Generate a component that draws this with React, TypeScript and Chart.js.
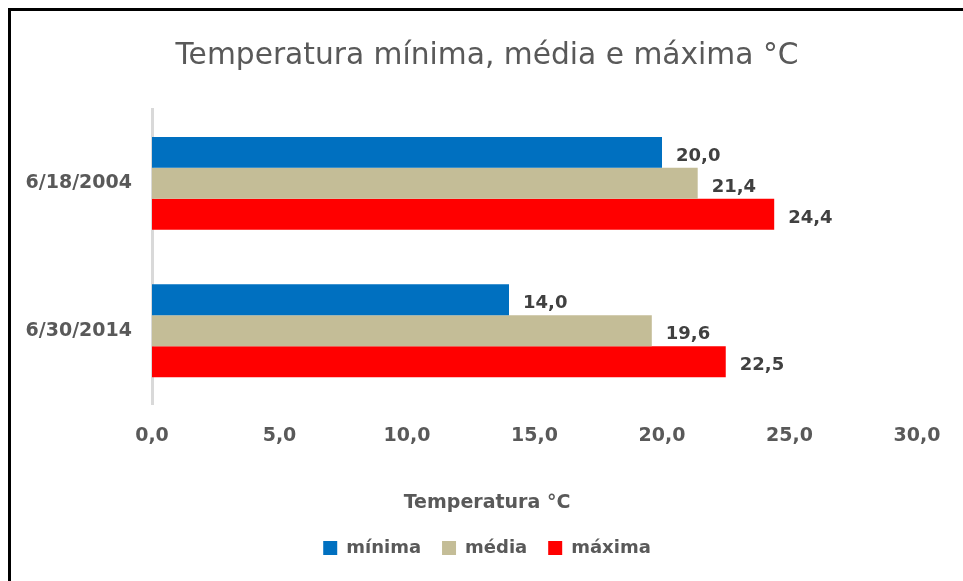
import React, { useEffect, useRef } from "react";
import { Chart, registerables } from "chart.js";

Chart.register(...registerables);

const categories = ["6/18/2004", "6/30/2014"];
const minima = [20.0, 14.0];
const media = [21.4, 19.6];
const maxima = [24.4, 22.5];
const seriesNames = ["mínima", "média", "máxima"];
const xTicks = [0, 5, 10, 15, 20, 25, 30];

const GRAY = "#595959";
const FONT = "'DejaVu Sans', sans-serif";

const fmt = (v: number) => v.toFixed(1).replace(".", ",");

const valueLabels = {
  id: "valueLabels",
  afterDatasetsDraw(chart: any) {
    const ctx = chart.ctx;
    ctx.save();
    ctx.font = `bold 18px ${FONT}`;
    ctx.fillStyle = "#404040";
    ctx.textAlign = "left";
    ctx.textBaseline = "middle";
    chart.data.datasets.forEach((ds: any, i: number) => {
      const meta = chart.getDatasetMeta(i);
      meta.data.forEach((bar: any, j: number) => {
        ctx.fillText(fmt(ds.data[j]), bar.x + 14, bar.y + 4);
      });
    });
    ctx.restore();
  },
};

export default function App() {
  const ref = useRef<HTMLCanvasElement>(null);
  useEffect(() => {
    if (!ref.current) return;
    const chart = new Chart(ref.current, {
      type: "bar",
      data: {
        labels: categories,
        datasets: [
          { label: seriesNames[0], data: minima, backgroundColor: "#0070C0" },
          { label: seriesNames[1], data: media, backgroundColor: "#C4BD97" },
          { label: seriesNames[2], data: maxima, backgroundColor: "#FF0000" },
        ],
      },
      options: {
        indexAxis: "y",
        animation: false,
        responsive: false,
        maintainAspectRatio: false,
        datasets: { bar: { categoryPercentage: 0.63, barPercentage: 1 } },
        layout: { padding: { left: 0, right: 0, top: 0, bottom: 14 } },
        plugins: {
          title: {
            display: true,
            text: "Temperatura mínima, média e máxima °C",
            color: GRAY,
            font: { family: FONT, size: 29.7, weight: "normal" },
            padding: { top: 27, bottom: 36 },
          },
          legend: {
            position: "bottom",
            title: {
              display: true,
              text: "Temperatura °C",
              color: GRAY,
              font: { family: FONT, size: 19, weight: "bold" },
              padding: { top: 26, bottom: 2 },
            },
            labels: {
              color: GRAY,
              font: { family: FONT, size: 18, weight: "bold" },
              boxWidth: 14,
              boxHeight: 14,
              padding: 21,
            },
          },
          tooltip: { enabled: false },
        },
        scales: {
          x: {
            min: 0,
            max: 30,
            afterBuildTicks: (scale: any) => {
              scale.ticks = xTicks.map((v) => ({ value: v }));
            },
            afterFit: (scale: any) => {
              scale.paddingRight = 46;
            },
            grid: { display: false, drawTicks: false },
            border: { display: false },
            ticks: {
              color: GRAY,
              padding: 20,
              font: { family: FONT, size: 19, weight: "bold" },
              callback: (v: any) => fmt(Number(v)),
            },
          },
          y: {
            grid: { display: false, drawTicks: false },
            border: { display: true, color: "#D9D9D9", width: 3 },
            ticks: {
              color: GRAY,
              padding: 20,
              font: { family: FONT, size: 19, weight: "bold" },
            },
            afterFit: (scale: any) => {
              scale.width = 141;
            },
          },
        },
      },
      plugins: [valueLabels],
    });
    return () => chart.destroy();
  }, []);
  return (
    <div
      style={{
        position: "fixed",
        left: 8,
        top: 8,
        width: 955,
        height: 573,
        borderTop: "3px solid #000",
        borderLeft: "3px solid #000",
        background: "#fff",
        boxSizing: "border-box",
      }}
    >
      <canvas ref={ref} width={952} height={570} style={{ display: "block" }} />
    </div>
  );
}
